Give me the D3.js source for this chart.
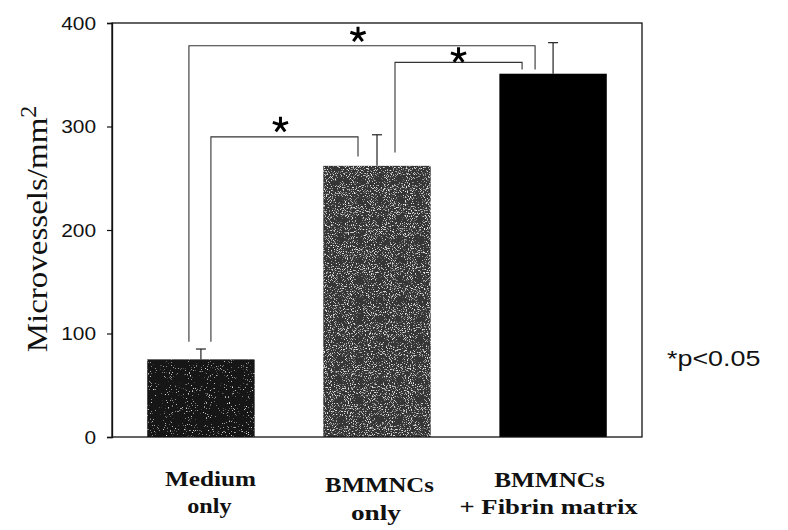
<!DOCTYPE html>
<html>
<head>
<meta charset="utf-8">
<script src="https://cdn.jsdelivr.net/npm/d3@7"></script>
<style>
  html, body { margin: 0; padding: 0; background: #fff; }
  svg { display: block; }
</style>
</head>
<body>
<svg id="chart" width="788" height="530"></svg>
<script>
// Microvessel density per group (mean with upward SD bar)
const groupTop = ["Medium", "BMMNCs", "BMMNCs"];
const groupBottom = ["only", "only", "+ Fibrin matrix"];
const means = [75, 262, 351];
const errors = [10, 30, 30];
const barColors = ["#171717", "#353535", "#000000"];
const yTicks = [0, 100, 200, 300, 400];

// Pairwise significance brackets: group indices, bracket level and leg ends (data units)
const compareFrom = [0, 1, 0];
const compareTo = [1, 2, 2];
const compareLevel = [290, 362, 378];
const fromLegEnd = [92, 275, 92];
const toLegEnd = [271, 355, 355];

const svg = d3.select("#chart");
const plot = { left: 112, right: 642, top: 23, bottom: 437 };
const serif = "'Liberation Serif', 'Times New Roman', serif";
const sans = "'Liberation Sans', Arial, sans-serif";

// speckled print texture for the grey bars
const defs = svg.append("defs");
function grain(id, slope, offset) {
  const f = defs.append("filter").attr("id", id)
    .attr("x", 0).attr("y", 0).attr("width", 1).attr("height", 1);
  f.append("feTurbulence").attr("type", "fractalNoise")
    .attr("baseFrequency", 0.95).attr("numOctaves", 2).attr("seed", 7).attr("result", "noise");
  f.append("feColorMatrix").attr("in", "noise").attr("type", "matrix")
    .attr("values", `0 0 0 0 0.8  0 0 0 0 0.8  0 0 0 0 0.8  ${slope} 0 0 0 ${offset}`)
    .attr("result", "speck");
  f.append("feComposite").attr("in", "speck").attr("in2", "SourceGraphic")
    .attr("operator", "in").attr("result", "speckIn");
  const m = f.append("feMerge");
  m.append("feMergeNode").attr("in", "SourceGraphic");
  m.append("feMergeNode").attr("in", "speckIn");
}
grain("grainDark", 6, -4.0);
grain("grainMid", 6, -3.4);
const barFilters = ["url(#grainDark)", "url(#grainMid)", null];

// stretch a text element to a given share of its natural width
function stretch(sel, factor) {
  sel.each(function () {
    const w = this.getComputedTextLength();
    d3.select(this).attr("textLength", w * factor).attr("lengthAdjust", "spacingAndGlyphs");
  });
}

const x = d3.scaleBand()
  .domain(d3.range(means.length))
  .range([plot.left, plot.right])
  .paddingInner(0.39)
  .paddingOuter(0.2);

const y = d3.scaleLinear().domain([0, 400]).range([plot.bottom, plot.top]);

// bars
svg.append("g").selectAll("rect")
  .data(means)
  .join("rect")
  .attr("x", (d, i) => x(i))
  .attr("y", d => y(d))
  .attr("width", x.bandwidth())
  .attr("height", d => y(0) - y(d))
  .attr("fill", (d, i) => barColors[i])
  .attr("filter", (d, i) => barFilters[i]);

// error bars (upper only)
const eb = svg.append("g").attr("stroke", "#222").attr("stroke-width", 1.2);
means.forEach((m, i) => {
  const cx = x(i) + x.bandwidth() / 2;
  eb.append("line").attr("x1", cx).attr("x2", cx).attr("y1", y(m)).attr("y2", y(m + errors[i]));
  eb.append("line").attr("x1", cx - 5).attr("x2", cx + 5).attr("y1", y(m + errors[i])).attr("y2", y(m + errors[i]));
});

// plot frame
svg.append("rect")
  .attr("x", plot.left).attr("y", plot.top)
  .attr("width", plot.right - plot.left).attr("height", plot.bottom - plot.top)
  .attr("fill", "none").attr("stroke", "#111").attr("stroke-width", 1.3);

// y axis
const yAxis = svg.append("g")
  .attr("transform", `translate(${plot.left},0)`)
  .call(d3.axisLeft(y).tickValues(yTicks).tickSize(5).tickPadding(11).tickFormat(d3.format("d")));
yAxis.select(".domain").attr("stroke", "#111").attr("stroke-width", 1.3);
yAxis.selectAll(".tick line").attr("stroke", "#111").attr("stroke-width", 1.2);
yAxis.selectAll(".tick text")
  .attr("fill", "#111")
  .style("font-family", sans)
  .style("font-size", "19px")
  .call(stretch, 1.1);

// y title
const yt = svg.append("text")
  .attr("transform", "translate(47,229) rotate(-90)")
  .attr("text-anchor", "middle")
  .attr("fill", "#111")
  .style("font-family", serif)
  .style("font-size", "30px");
yt.append("tspan").text("Microvessels/mm").call(stretch, 1.1);
yt.append("tspan").attr("dy", "-0.45em").style("font-size", "24px").text("2");

// category labels
const topY = [486, 492, 487];
const botY = [513, 520, 514];
const topDx = [9.5, 2.5, -3.5];
const botDx = [8.5, -1, -4.5];
const topStretch = [1.2, 1.18, 1.2];
const botStretch = [1.15, 1.3, 1.27];
groupTop.forEach((t, i) => {
  const cx = x(i) + x.bandwidth() / 2;
  svg.append("text").attr("x", cx + topDx[i]).attr("y", topY[i])
    .attr("text-anchor", "middle").attr("fill", "#111")
    .style("font-family", serif).style("font-weight", "bold").style("font-size", "21px")
    .text(t).call(stretch, topStretch[i]);
  svg.append("text").attr("x", cx + botDx[i]).attr("y", botY[i])
    .attr("text-anchor", "middle").attr("fill", "#111")
    .style("font-family", serif).style("font-weight", "bold").style("font-size", "21px")
    .text(groupBottom[i]).call(stretch, botStretch[i]);
});

// significance brackets
const legOffsetFrom = [10, 18, -12];
const legOffsetTo = [-19, -31, -18];
const starDx = [-4, 0, -4];
const starDy = [-12, -7, -11];
const br = svg.append("g").attr("fill", "none").attr("stroke", "#333").attr("stroke-width", 1.1);
const star = d3.range(5).map(k => {
  const a = (-90 + 72 * k) * Math.PI / 180;
  return `M0,0L${(8 * Math.cos(a)).toFixed(2)},${(8 * Math.sin(a)).toFixed(2)}`;
}).join("");
compareFrom.forEach((f, i) => {
  const t = compareTo[i];
  const x1 = x(f) + x.bandwidth() / 2 + legOffsetFrom[i];
  const x2 = x(t) + x.bandwidth() / 2 + legOffsetTo[i];
  const yl = y(compareLevel[i]);
  br.append("path")
    .attr("d", `M${x1},${y(fromLegEnd[i])}V${yl}H${x2}V${y(toLegEnd[i])}`);
  svg.append("path")
    .attr("d", star)
    .attr("transform", `translate(${(x1 + x2) / 2 + starDx[i]},${yl + starDy[i]})`)
    .attr("stroke", "#000").attr("stroke-width", 3).attr("fill", "none");
});

// footnote
svg.append("text").attr("x", 667).attr("y", 366)
  .attr("fill", "#111")
  .style("font-family", sans)
  .style("font-size", "21.5px")
  .text("*p<0.05")
  .call(stretch, 1.25);
</script>
</body>
</html>
